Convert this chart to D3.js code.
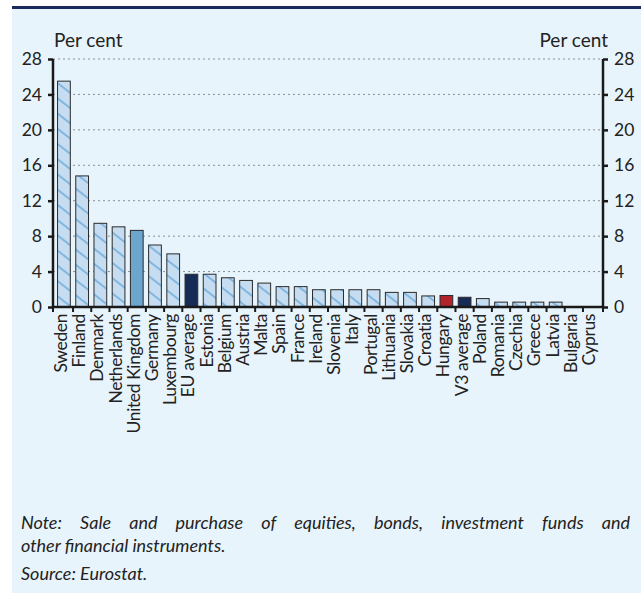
<!DOCTYPE html>
<html><head><meta charset="utf-8">
<script src="https://cdn.jsdelivr.net/npm/d3@7"></script>
<style>body{margin:0;background:#fff}svg{display:block}</style>
</head><body>
<script>
const categories = ["Sweden","Finland","Denmark","Netherlands","United Kingdom","Germany","Luxembourg","EU average","Estonia","Belgium","Austria","Malta","Spain","France","Ireland","Slovenia","Italy","Portugal","Lithuania","Slovakia","Croatia","Hungary","V3 average","Poland","Romania","Czechia","Greece","Latvia","Bulgaria","Cyprus"];
const values = [25.5,14.8,9.45,9.05,8.65,7.0,6.0,3.7,3.7,3.3,3.0,2.7,2.3,2.3,1.95,1.95,1.95,1.95,1.65,1.65,1.25,1.3,1.1,0.95,0.55,0.55,0.55,0.55,0,0];
const kinds = ["h","h","h","h","uk","h","h","avg","h","h","h","h","h","h","h","h","h","h","h","h","h","hu","avg","h","h","h","h","h","h","h"];
const yTicks = [0,4,8,12,16,20,24,28];
const unitLabel = "Per cent";
const noteLines = ["Note: Sale and purchase of equities, bonds, investment funds and","other financial instruments."];
const sourceText = "Source: Eurostat.";

const W=641,H=593;
const svg=d3.select("body").append("svg").attr("width",W).attr("height",H);
const font="Lato, 'Open Sans', sans-serif";
svg.append("rect").attr("x",12).attr("y",9).attr("width",W-12).attr("height",H-9).attr("fill","#e8f4fb");
svg.append("rect").attr("x",12).attr("y",6).attr("width",W-12).attr("height",3).attr("fill","#1b2a5c");

const defs=svg.append("defs");
const pat=defs.append("pattern").attr("id","hatch").attr("patternUnits","userSpaceOnUse")
  .attr("width",12).attr("height",12).attr("patternTransform","rotate(38)");
pat.append("rect").attr("width",12).attr("height",12).attr("fill","#c6dcf0");
pat.append("line").attr("x1",0).attr("x2",12).attr("y1",6).attr("y2",6).attr("stroke","#74b1dd").attr("stroke-width",1.7);

const L=53,R=603,T=59,B=307;
const x=d3.scaleBand().domain(categories).range([L,R]).paddingInner(0.3).paddingOuter(0.25);
const y=d3.scaleLinear().domain([0,28]).range([B,T]);

// grid
svg.append("g").selectAll("line").data(yTicks.filter(d=>d>0)).join("line")
  .attr("x1",L).attr("x2",R).attr("y1",d=>y(d)).attr("y2",d=>y(d))
  .attr("stroke","#8a8f96").attr("stroke-width",1).attr("stroke-dasharray","2,3");

const fillFor=k=>k==="h"?"url(#hatch)":k==="uk"?"#6ca6cf":k==="avg"?"#172b57":"#b5232a";
svg.append("g").selectAll("rect").data(categories).join("rect")
  .attr("x",d=>x(d)).attr("width",x.bandwidth())
  .attr("y",(d,i)=>y(values[i])).attr("height",(d,i)=>B-y(values[i]))
  .attr("fill",(d,i)=>fillFor(kinds[i]))
  .attr("stroke",(d,i)=>values[i]>0?"#2a2a2a":"none").attr("stroke-width",1);

// axes
const ax=svg.append("g");
const yl=d3.axisLeft(y).tickValues(yTicks).tickSize(5).tickPadding(6);
const yr=d3.axisRight(y).tickValues(yTicks).tickSize(5).tickPadding(6);
const gl=ax.append("g").attr("transform",`translate(${L},0)`).call(yl);
const gr=ax.append("g").attr("transform",`translate(${R},0)`).call(yr);
[gl,gr].forEach(g=>{
  g.select(".domain").attr("stroke","#1a1a1a").attr("stroke-width",2.5).attr("d",`M0,${T}V${B}`);
  g.selectAll(".tick line").attr("stroke","#1a1a1a").attr("stroke-width",2.5);
  g.selectAll(".tick text").attr("font-family",font).attr("font-size",17.5).attr("fill","#222");
});
// x axis
const bounds=d3.range(categories.length+1).map(i=>i===0?L:i===categories.length?R:(x(categories[i-1])+x.bandwidth()+x(categories[i]))/2);
const xb=svg.append("g");
xb.append("line").attr("x1",L).attr("x2",R).attr("y1",B).attr("y2",B).attr("stroke","#1a1a1a").attr("stroke-width",2.5);
xb.selectAll("line.t").data(bounds).join("line").attr("class","t")
  .attr("x1",d=>d).attr("x2",d=>d).attr("y1",B).attr("y2",B+5).attr("stroke","#1a1a1a").attr("stroke-width",2);
xb.selectAll("text").data(categories).join("text")
  .attr("transform",d=>`translate(${x(d)+x.bandwidth()/2+3},${B+7}) rotate(-90)`)
  .attr("text-anchor","end").attr("font-family",font).attr("font-size",17.5).attr("letter-spacing",-0.4).attr("fill","#222").text(d=>d);

svg.append("text").attr("x",54).attr("y",47).attr("font-family",font).attr("font-size",19).attr("fill","#222").text(unitLabel);
svg.append("text").attr("x",608).attr("y",47).attr("text-anchor","end").attr("font-family",font).attr("font-size",19).attr("fill","#222").text(unitLabel);

const nt=svg.append("g").attr("font-family",font).attr("font-style","italic").attr("font-size",18).attr("fill","#222");
const l1=nt.append("text").attr("x",21).attr("y",529).text(noteLines[0]);
const w1=l1.node().getComputedTextLength();
const gaps=noteLines[0].split(" ").length-1;
if(w1<609) l1.attr("word-spacing",((609-w1)/gaps).toFixed(2));
else l1.attr("textLength",609).attr("lengthAdjust","spacingAndGlyphs");
nt.append("text").attr("x",21).attr("y",552).text(noteLines[1]);
nt.append("text").attr("x",21).attr("y",580).text(sourceText);
</script>
</body></html>
